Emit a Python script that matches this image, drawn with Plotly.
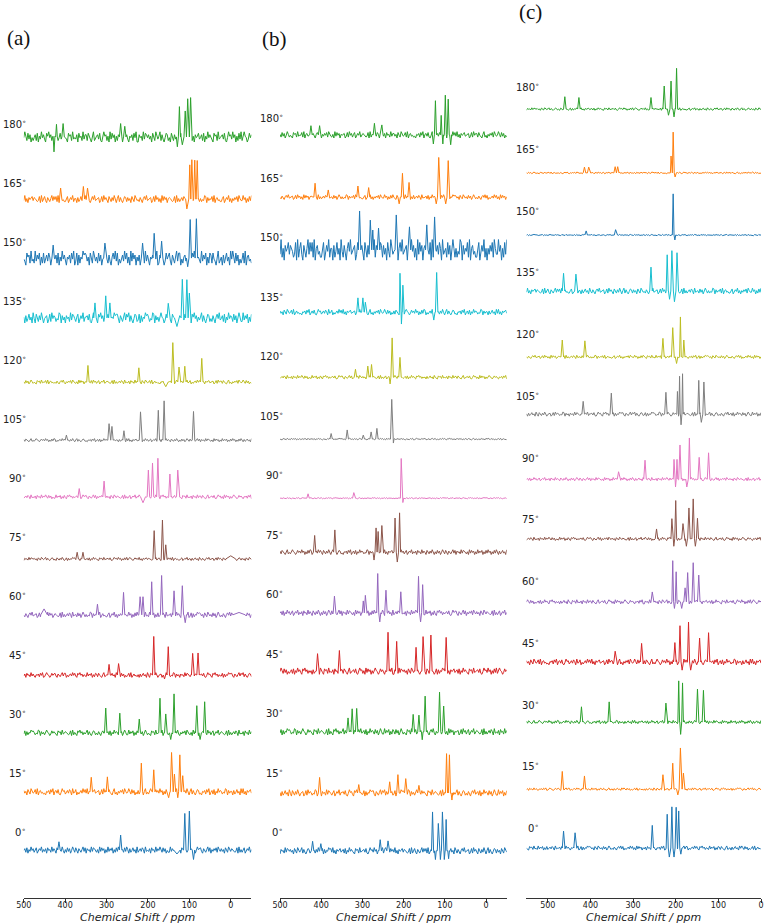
import plotly.graph_objects as go

ANGLES = [0, 15, 30, 45, 60, 75, 90, 105, 120, 135, 150, 165, 180]
COLORS = ["#1f77b4", "#ff7f0e", "#2ca02c", "#d62728", "#9467bd", "#8c564b", "#e377c2",
          "#7f7f7f", "#bcbd22", "#17becf", "#1f77b4", "#ff7f0e", "#2ca02c"]
TICKS = [500, 400, 300, 200, 100, 0]

# features per spectrum: (ppm, height[, half width]) ; heights normalised to tallest peak = 1
PEAKS_A = [
    [(111, 0.93), (100, 0.99), (266, 0.38), (415, 0.21), (90, -0.24), (130, -0.1, 8)],
    [(143, 1.0), (136, 0.45), (123, 0.94), (116, 0.41), (216, 0.73), (186, 0.56), (337, 0.37), (298, 0.38), (150, -0.15), (128, -0.15, 2)],
    [(137, 0.99), (171, 0.88), (157, 0.48), (82, 0.69), (63, 0.79), (302, 0.63), (268, 0.5), (221, 0.35), (145, -0.17), (74, -0.17)],
    [(186, 0.98), (151, 0.72), (92, 0.55), (79, 0.56), (294, 0.27), (271, 0.29), (160, -0.1)],
    [(167, 1.0), (191, 0.84), (117, 0.74), (137, 0.61), (259, 0.57), (219, 0.46), (212, 0.46), (322, 0.27), (451, 0.15, 8), (110, -0.2), (-20, 0.06, 15)],
    [(165, 0.99), (185, 0.72), (157, 0.36), (371, 0.17), (357, 0.17), (0, 0.08, 12)],
    [(176, 0.98), (189, 0.86), (199, 0.68), (147, 0.58), (128, 0.68), (306, 0.4), (366, 0.21), (212, -0.15, 6)],
    [(161, 1.0), (175, 0.76), (90, 0.73), (218, 0.72), (294, 0.42), (287, 0.35), (258, 0.24), (397, 0.13)],
    [(140, 1.0), (125, 0.38), (111, 0.4), (70, 0.6), (345, 0.42), (222, 0.36), (157, -0.12, 6)],
    [(117, 0.98), (106, 0.97), (100, 0.63), (302, 0.56), (292, 0.38), (328, 0.38), (151, 0.37), (130, -0.22, 6)],
    [(98, 0.98), (83, 1.0), (185, 0.63), (167, 0.43), (213, 0.38), (429, 0.33), (304, 0.38), (104, -0.22)],
    [(99, 0.87, 2.5), (94, 1.0, 2.5), (87, 0.99, 2.5), (81, 0.98, 2.5), (106, -0.25), (411, 0.28), (356, 0.32), (346, 0.28)],
    [(124, 0.77, 2.5), (110, 0.66), (104, 0.97), (97, 1.0), (427, -0.38, 2), (421, 0.32, 2), (405, 0.34), (266, 0.34), (256, 0.27), (129, -0.25, 2.5), (117, -0.2)],
]
PEAKS_B = [
    [(130, 0.98, 2.5), (116, 0.69, 2.5), (106, 0.98, 2.5), (97, 0.79, 2), (123, -0.22, 2), (111, -0.22, 2), (101.5, -0.22, 2), (91, -0.2, 2), (257, 0.28), (238, 0.25), (421, 0.24), (401, 0.18)],
    [(96, 0.99, 2.5), (89, 0.96, 2.5), (214, 0.46), (195, 0.36), (234, 0.28), (163, 0.19), (404, 0.39), (309, 0.21), (83, -0.18, 2)],
    [(113, 1.0), (148, 0.9), (103, 0.65), (177, 0.44), (163, 0.42), (314, 0.59), (325, 0.58), (335, 0.35), (155, -0.2, 2)],
    [(238, 0.98), (134, 0.91), (153, 0.87), (97, 0.85), (217, 0.75), (170, 0.6), (356, 0.52), (409, 0.44)],
    [(263, 0.99, 2.5), (164, 0.92, 2.5), (154, 0.71, 2.5), (243, 0.57), (207, 0.53), (368, 0.42), (293, 0.44, 2.5), (298, 0.3, 2.5), (258, -0.23, 2.5), (159, -0.23, 2.5)],
    [(210, 0.99, 2.5), (221, 0.86, 2.5), (253, 0.67), (267, 0.61, 2.5), (262, 0.52, 2.5), (367, 0.56), (416, 0.42), (215.5, -0.25, 2.5), (272, -0.2, 2.5)],
    [(206, 1.0, 2), (321, 0.14), (432, 0.11), (202, -0.11, 2)],
    [(229, 1.0), (265, 0.27), (279, 0.18), (298, 0.1), (337, 0.23), (376, 0.14), (225, -0.1, 1.5)],
    [(228, 0.99), (209, 0.5), (317, 0.2), (287, 0.28), (278, 0.32), (233, -0.17, 2)],
    [(209, 0.98, 1.5), (202, 0.68, 1.5), (120, 1.0), (311, 0.36), (299, 0.36), (293, 0.25, 2.5), (205.5, -0.3, 1.5), (127, -0.2)],
    [(307, 0.98), (281, 0.75, 2.5), (275, 0.5, 2.5), (261, 0.55), (218, 0.88), (186, 0.58), (144, 0.63), (125, 0.83)],
    [(115, 1.0), (92, 0.92), (203, 0.6), (187, 0.37), (415, 0.35), (311, 0.28), (285, 0.24), (383, 0.18), (211, -0.17), (121, -0.17), (98, -0.17)],
    [(123, 0.86, 2.5), (109, 0.49, 2), (99, 1.0, 2.5), (92, 0.9, 2.5), (128, -0.23, 2.5), (105, -0.23, 1.5), (86, -0.25, 2.5), (425, 0.23), (404, 0.23), (271, 0.29), (253, 0.25)],
]
PEAKS_C = [
    [(220, 0.82, 2.5), (209, 1.0, 2.5), (199, 0.99, 2.5), (193, 0.9, 2.5), (215, -0.22, 2.5), (204, -0.22, 2.5), (188, -0.15, 2.5), (255, 0.55), (463, 0.41), (436, 0.37)],
    [(189, 1.0), (207, 0.63), (230, 0.35), (182, 0.39), (466, 0.43), (414, 0.32), (195, -0.14)],
    [(193, 1.0, 2), (184, 0.95, 2), (149, 0.8), (135, 0.77), (223, 0.46), (421, 0.37), (356, 0.49), (188.5, -0.3, 2)],
    [(170, 0.97, 2.5), (190, 0.88, 2.5), (123, 0.71), (144, 0.58), (202, 0.47), (280, 0.45), (342, 0.26), (185, -0.2, 2.5), (165, -0.2, 2.5)],
    [(207, 1.0, 2), (199, 0.73, 2), (178, 0.34), (172, 0.71), (159, 0.95), (146, 0.65), (255, 0.24), (203, -0.16, 2), (186, -0.16)],
    [(209, 0.49, 2.2), (200, 0.93, 2.2), (183, 0.37), (169, 0.75), (159, 0.97), (149, 0.5, 2.5), (245, 0.24), (204.5, -0.18, 2.2), (175, -0.18, 2.5), (154, -0.18, 2.5)],
    [(168, 1.0, 2.5), (190, 0.83), (204, 0.48, 1.8), (197, 0.48, 1.8), (145, 0.53), (123, 0.64), (272, 0.46), (334, 0.18), (200.5, -0.19, 1.8), (174, -0.19, 2.5)],
    [(184, 0.98, 1.5), (191, 0.92, 1.5), (196, 0.55, 1.5), (223, 0.53), (146, 0.82, 2.5), (134, 0.78, 2.5), (351, 0.51), (417, 0.31), (187.5, -0.26, 1.5), (140, -0.2, 2.5)],
    [(189, 0.97, 2), (207, 0.71), (230, 0.45), (181, 0.41, 2), (466, 0.41), (413, 0.39), (198, -0.16)],
    [(209, 0.98, 2.5), (220, 0.88, 2.5), (197, 0.93, 2.5), (258, 0.58), (463, 0.43), (434, 0.41), (203, -0.26, 2.5), (214.5, -0.2, 2.5)],
    [(206, 1.0, 2), (410, 0.1), (341, 0.13), (202, -0.12, 2)],
    [(206, 0.99, 2), (211, 0.41, 1.5), (414, 0.14), (404, 0.14), (342, 0.15), (336, 0.15), (201.5, -0.1, 2)],
    [(198, 0.99, 2.5), (211, 0.68, 2.5), (227, 0.56), (258, 0.28), (460, 0.3), (427, 0.28), (204, -0.19, 2.5), (217, -0.15, 2.5)],
]

# baseline height of each spectrum above its stacking position (min-max normalised spectra sit higher when noisy)
LIFT_A = [0.05, 0.03, 0.03, 0.0, 0.03, -0.05, 0.03, -0.03, -0.05, 0.08, 0.1, 0.1, 0.18]
LIFT_B = [0.03, -0.01, 0.03, 0.06, 0.03, 0.06, -0.08, -0.09, -0.03, 0.11, 0.18, 0.01, 0.08]
LIFT_C = [0.0, -0.07, 0.06, 0.02, -0.02, 0.01, -0.04, 0.04, -0.07, 0.03, -0.11, -0.1, -0.05]

# baseline noise traces, one digit per grid step across a panel (4.5 = baseline)
NOISE = [
    "46271538462571364825361745283641752638415273614852731642583716452837642518374615283647152738461527385162473518"
    "24637518343617452836485273614228364715273175846253563721485673164258371536472853635174286365423718252571364825",
    "63517428634728156342315462748156372148562463751834714256384738251645734561372846627431582415364728534852736142"
    "62743158242685413746384615273871425638474175263841582631476231546274814627153846524387163551624735183825164573",
    "37162548675243871635268541374643175628346542371825317584625358263147624263157483462715384652736148522836471527"
    "52736148524317562834472815634242631574831536472853251837461545613728462571364825654237182524637518343617452836",
    "36174528363154627481268541374673164258377142563847317584625328364715276274315824516247351848527361424728156342"
    "51624735184175263841456137284652438716351645283764257136482556372148563175846253371625486773164258375826314762",
    "42631574834561372846251837461565423718252463751834527361485252438716354728156342257136482515364728533846152738"
    "43175628342836471527246375183446271538463154627481371625486763517428635273614852426315748371425638472518374615",
    "16452837646351742863582631476241752638413716254867382516457346271538464317562834563721485638461527382685413746"
    "38251645736542371825731642583747281563422571364825516247351842631574834561372846417526384158263147626351742863",
    "24637518343617452836485273614228364715273175846253563721485673164258371536472853635174286365423718252571364825"
    "48527361424627153846317584625351624735184317562834361745283662743158245637214856251837461526854137463154627481",
    "62743158242685413746384615273871425638474175263841582631476231546274814627153846524387163551624735183825164573"
    "46271538462571364825361745283641752638415273614852731642583716452837642518374615283647152738461527385162473518",
    "52736148524317562834472815634242631574831536472853251837461545613728462571364825654237182524637518343617452836"
    "63517428634728156342315462748156372148562463751834714256384738251645734561372846627431582415364728534852736142",
    "51624735184175263841456137284652438716351645283764257136482556372148563175846253371625486773164258375826314762"
    "37162548675243871635268541374643175628346542371825317584625358263147624263157483462715384652736148522836471527",
    "43175628342836471527246375183446271538463154627481371625486763517428635273614852426315748371425638472518374615"
    "36174528363154627481268541374673164258377142563847317584625328364715276274315824516247351848527361424728156342",
    "38251645736542371825731642583747281563422571364825516247351842631574834561372846417526384158263147626351742863"
    "42631574834561372846251837461565423718252463751834527361485252438716354728156342257136482515364728533846152738",
    "48527361424627153846317584625351624735184317562834361745283662743158245637214856251837461526854137463154627481"
    "16452837646351742863582631476241752638413716254867382516457346271538464317562834563721485638461527382685413746",
]
NOISE_ORDER_A = [0, 1, 2, 3, 4, 5, 6, 7, 8, 9, 10, 11, 12]
NOISE_ORDER_B = [5, 9, 2, 12, 0, 7, 3, 10, 6, 1, 11, 4, 8]
NOISE_ORDER_C = [10, 3, 7, 1, 12, 6, 0, 9, 4, 11, 2, 8, 5]
AMP_A = [0.08, 0.08, 0.07, 0.06, 0.07, 0.04, 0.05, 0.04, 0.05, 0.13, 0.18, 0.09, 0.13]
AMP_B = [0.08, 0.08, 0.08, 0.08, 0.07, 0.06, 0.015, 0.02, 0.045, 0.07, 0.26, 0.06, 0.08]
AMP_C = [0.05, 0.03, 0.04, 0.07, 0.05, 0.04, 0.04, 0.05, 0.04, 0.07, 0.015, 0.02, 0.03]

STEP = 1.5          # vertical offset between stacked spectra
W = 3.0             # default half width of a line (ppm)
W_PX, H_PX = 766, 924
AXIS_Y = 898

PANELS = [
    dict(peaks=PEAKS_A, order=NOISE_ORDER_A, amp=AMP_A, lift=LIFT_A, rng=(500, -50), px=(16, 247),
         base=852, spacing=59.0, label="(a)", lab_cx=11, lab_cy=38, lab_x=490, lab_px=20, tag=("x", "y")),
    dict(peaks=PEAKS_B, order=NOISE_ORDER_B, amp=AMP_B, lift=LIFT_B, rng=(500, -50), px=(276, 506),
         base=852, spacing=59.5, label="(b)", lab_cx=270, lab_cy=39, lab_x=488, lab_px=20, tag=("x2", "y2")),
    dict(peaks=PEAKS_C, order=NOISE_ORDER_C, amp=AMP_C, lift=LIFT_C, rng=(550, 0), px=(526, 764),
         base=848, spacing=61.75, label="(c)", lab_cx=530, lab_cy=12, lab_x=516, lab_px=20, tag=("x3", "y3")),
]


def spectrum(features, noise, amp, left, right):
    n = len(noise)
    step = (left - right) / (n - 1)
    pts = []
    for k, ch in enumerate(noise):
        g = left - k * step
        if all(abs(g - f[0]) > (f[2] if len(f) > 2 else W) + 0.3 for f in features):
            pts.append((g, (int(ch) - 4.5) / 3.5 * amp))
    for f in features:
        fw = f[2] if len(f) > 2 else W
        pts += [(f[0] + fw, 0.0), (f[0], f[1]), (f[0] - fw, 0.0)]
    pts.sort(key=lambda t: -t[0])
    return [p[0] for p in pts], [p[1] for p in pts]


fig = go.Figure()
annotations = []
layout = {}
for pi, P in enumerate(PANELS):
    xa, ya = P["tag"]
    upx = P["spacing"] / STEP
    for i, ang in enumerate(ANGLES):
        xs, ys = spectrum(P["peaks"][i], NOISE[P["order"][i]], P["amp"][i], P["rng"][0], P["rng"][1])
        off = STEP * i + P["lift"][i]
        fig.add_trace(go.Scatter(x=xs, y=[v + off for v in ys], mode="lines",
                                 line=dict(color=COLORS[i], width=1), xaxis=xa, yaxis=ya,
                                 showlegend=False, hoverinfo="skip"))
        annotations.append(dict(x=P["lab_x"], y=STEP * i + P["lab_px"] / upx, xref=xa, yref=ya,
                                text=f"{ang}<sup>∘</sup>", showarrow=False, xanchor="right",
                                yanchor="middle", font=dict(family="DejaVu Sans", size=10, color="#222")))
    y0 = -(AXIS_Y - P["base"]) / upx
    y1 = P["base"] / upx
    sfx = "" if pi == 0 else str(pi + 1)
    layout["xaxis" + sfx] = dict(domain=[P["px"][0] / W_PX, P["px"][1] / W_PX], range=list(P["rng"]),
                                 anchor=ya, tickvals=TICKS, ticks="outside", ticklen=3.5, tickwidth=1,
                                 tickcolor="#333", showline=True, linecolor="#333", linewidth=1,
                                 showgrid=False, zeroline=False, ticklabelstandoff=-4,
                                 ticklabeloverflow="allow",
                                 tickfont=dict(family="DejaVu Sans", size=8, color="#222"))
    layout["yaxis" + sfx] = dict(domain=[(H_PX - AXIS_Y) / H_PX, 1], range=[y0, y1], visible=False,
                                 anchor=xa)
    cx = (P["px"][0] + P["px"][1]) / 2 / W_PX
    annotations.append(dict(x=cx, y=(H_PX - 917) / H_PX, xref="paper", yref="paper",
                            text="<i>Chemical Shift / ppm</i>", showarrow=False, xanchor="center",
                            yanchor="middle", font=dict(family="DejaVu Sans", size=11, color="#222")))
    annotations.append(dict(x=P["lab_cx"] / W_PX, y=1 - P["lab_cy"] / H_PX, xref="paper", yref="paper",
                            text=P["label"], showarrow=False, xanchor="center", yanchor="middle",
                            font=dict(family="Liberation Serif", size=21, color="#111")))

fig.update_layout(width=W_PX, height=H_PX, margin=dict(l=0, r=0, t=0, b=0),
                  paper_bgcolor="white", plot_bgcolor="white", annotations=annotations, **layout)
fig.write_html("out.html")
